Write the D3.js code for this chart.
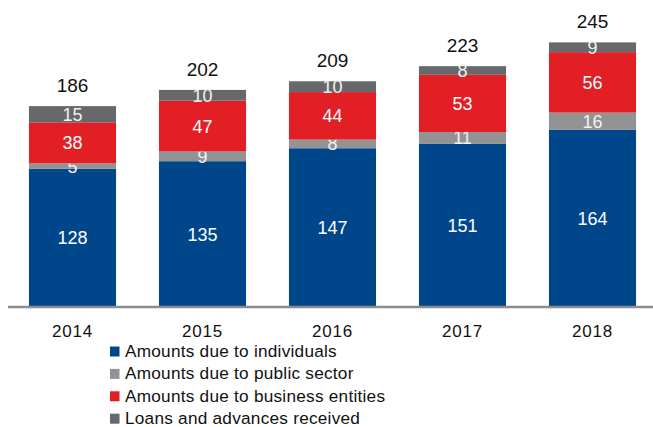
<!DOCTYPE html>
<html><head><meta charset="utf-8">
<script src="https://cdn.jsdelivr.net/npm/d3@7"></script>
<style>body{margin:0;background:#fff}svg{display:block}</style>
</head><body>
<svg id="c" width="653" height="427"></svg>
<script>
const years = ["2014","2015","2016","2017","2018"];
const individuals = [128,135,147,151,164];
const publicSector = [5,9,8,11,16];
const business = [38,47,44,53,56];
const loans = [15,10,10,8,9];
const totals = [186,202,209,223,245];
const seriesNames = ["Amounts due to individuals","Amounts due to public sector","Amounts due to business entities","Loans and advances received"];
const seriesColors = ["#00468b","#939393","#e31f26","#67686c"];

const keys = ["ind","pub","bus","loa"];
const rows = years.map((y,i)=>({year:y, ind:individuals[i], pub:publicSector[i], bus:business[i], loa:loans[i]}));
const stack = d3.stack().keys(keys)(rows);

const svg = d3.select("#c");
const x = d3.scaleBand().domain(years).range([7.5,657.5]).paddingInner(0.33).paddingOuter(0.165);
const y = d3.scaleLinear().domain([0,250]).range([307,307-270]);
const FONT = "Liberation Sans, Arial, sans-serif";

const g = svg.append("g");
stack.forEach((s,si)=>{
  g.selectAll(null).data(s).enter().append("rect")
    .attr("x", d=>x(d.data.year))
    .attr("width", x.bandwidth())
    .attr("y", d=>y(d[1]))
    .attr("height", d=>y(d[0])-y(d[1]))
    .attr("fill", seriesColors[si]);
  g.selectAll(null).data(s).enter().append("text")
    .attr("x", d=>x(d.data.year)+x.bandwidth()/2)
    .attr("y", d=>(y(d[0])+y(d[1]))/2 + 6.5)
    .attr("text-anchor","middle")
    .attr("font-family",FONT)
    .attr("font-size", 18)
    .attr("fill", si===0||si===2 ? "#fff" : "#f2f2f2")
    .text(d=>d[1]-d[0]);
});

// totals
g.selectAll(null).data(rows).enter().append("text")
  .attr("x", d=>x(d.year)+x.bandwidth()/2)
  .attr("y", (d,i)=>y(stack[3][i][1]) - 14)
  .attr("text-anchor","middle")
  .attr("font-family",FONT)
  .attr("font-size", 19)
  .attr("fill","#111")
  .text((d,i)=>totals[i]);

// axis
const xAxis = d3.axisBottom(x).tickSize(0).tickPadding(0);
const ax = svg.append("g").attr("transform","translate(0,307)").call(xAxis);
ax.select(".domain").attr("d","M8,0H653").attr("stroke","#8c8c8c").attr("stroke-width",2.5);
ax.selectAll(".tick text")
  .attr("y", 30).attr("dy", null)
  .attr("font-family",FONT)
  .attr("font-size", 17)
  .attr("letter-spacing", 0.8)
  .attr("fill","#111");

// legend
const lg = svg.append("g");
seriesNames.forEach((n,i)=>{
  const cy = 351 + i*22.4;
  lg.append("rect").attr("x",110).attr("y",cy-4.5).attr("width",9.5).attr("height",10).attr("fill",seriesColors[i]);
  lg.append("text").attr("x",125).attr("y",cy+5.8)
    .attr("font-family",FONT)
    .attr("font-size",17.2).attr("letter-spacing",0.25).attr("fill","#111").text(n);
});
</script>
</body></html>
